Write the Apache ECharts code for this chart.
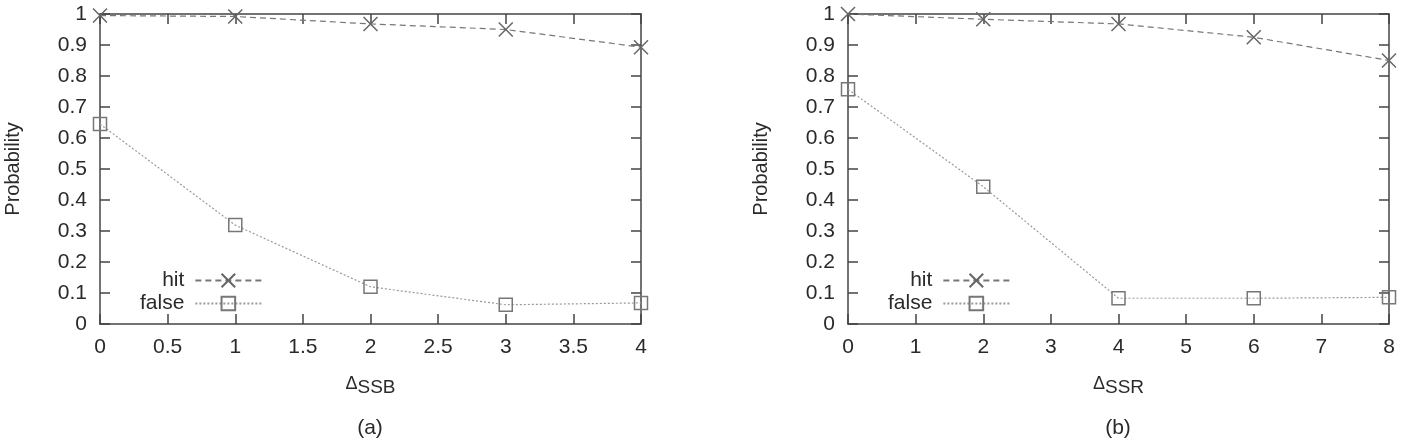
<!DOCTYPE html>
<html>
<head>
    <meta charset="utf-8">
    <title>chart</title>
    <style>
        html, body { margin: 0; padding: 0; background: #fff; }
        #chart { width: 1401px; height: 441px; }
    </style>
    <script src="https://cdn.jsdelivr.net/npm/echarts@6/dist/echarts.min.js"></script>
</head>
<body>
<div id="chart"></div>
<script>
    // (a) delta SSB
    var ssbX = [0, 1, 2, 3, 4];
    var ssbHit = [0.995, 0.992, 0.968, 0.95, 0.893];
    var ssbFalse = [0.645, 0.319, 0.12, 0.062, 0.068];

    // (b) delta SSR
    var ssrX = [0, 2, 4, 6, 8];
    var ssrHit = [1.0, 0.983, 0.968, 0.925, 0.85];
    var ssrFalse = [0.757, 0.443, 0.083, 0.083, 0.086];

    var seriesNames = ['hit', 'false'];

    var font = 'Liberation Sans, Arial, Helvetica, sans-serif';
    var axisColor = '#444';
    var textColor = '#2a2a2a';
    var crossSymbol = 'path://M0,0L10,10M10,0L0,10';

    function pairs(xs, ys) {
        return xs.map(function (x, i) { return [x, ys[i]]; });
    }

    function xAxes(idx, maxX, step, sub) {
        return [{
            type: 'value', gridIndex: idx, min: 0, max: maxX, interval: step,
            position: 'bottom',
            axisLine: { onZero: false, lineStyle: { color: axisColor, width: 1.5 } },
            axisTick: { inside: true, length: 10, lineStyle: { color: axisColor, width: 1.5 } },
            axisLabel: { margin: 13, color: textColor, fontSize: 21, fontFamily: font },
            splitLine: { show: false },
            name: '{d|Δ}{s|' + sub + '}',
            nameLocation: 'middle',
            nameGap: 51,
            nameTextStyle: {
                rich: {
                    d: { fontSize: 18, fontFamily: font, color: textColor, padding: [0, 0, 8, 0] },
                    s: { fontSize: 19, fontFamily: font, color: textColor }
                }
            }
        }, {
            type: 'value', gridIndex: idx, min: 0, max: maxX, interval: step,
            position: 'top',
            axisLine: { onZero: false, lineStyle: { color: axisColor, width: 1.5 } },
            axisTick: { inside: true, length: 10, lineStyle: { color: axisColor, width: 1.5 } },
            axisLabel: { show: false },
            splitLine: { show: false }
        }];
    }

    function yAxes(idx) {
        return [{
            type: 'value', gridIndex: idx, min: 0, max: 1, interval: 0.1,
            position: 'left',
            axisLine: { show: true, onZero: false, lineStyle: { color: axisColor, width: 1.5 } },
            axisTick: { show: true, inside: true, length: 10, lineStyle: { color: axisColor, width: 1.5 } },
            axisLabel: { margin: 13, color: textColor, fontSize: 21, fontFamily: font },
            splitLine: { show: false },
            name: 'Probability',
            nameLocation: 'middle',
            nameRotate: 90,
            nameGap: 77,
            nameTextStyle: { fontSize: 20, fontFamily: font, color: textColor }
        }, {
            type: 'value', gridIndex: idx, min: 0, max: 1, interval: 0.1,
            position: 'right',
            axisLine: { show: true, onZero: false, lineStyle: { color: axisColor, width: 1.5 } },
            axisTick: { show: true, inside: true, length: 10, lineStyle: { color: axisColor, width: 1.5 } },
            axisLabel: { show: false },
            splitLine: { show: false }
        }];
    }

    function hitSeries(xi, yi, data) {
        return {
            name: seriesNames[0], type: 'line', xAxisIndex: xi, yAxisIndex: yi,
            data: data, symbol: crossSymbol, symbolSize: 14,
            itemStyle: { color: 'transparent', borderColor: '#666', borderWidth: 1.5 },
            lineStyle: { color: '#777', width: 1.2, type: [6, 4] },
            emphasis: { disabled: true }, animation: false
        };
    }

    function falseSeries(xi, yi, data) {
        return {
            name: seriesNames[1], type: 'line', xAxisIndex: xi, yAxisIndex: yi,
            data: data, symbol: 'rect', symbolSize: 13,
            itemStyle: { color: 'transparent', borderColor: '#777', borderWidth: 1.5 },
            lineStyle: { color: '#999', width: 1.2, type: [2, 2] },
            emphasis: { disabled: true }, animation: false
        };
    }

    function legendAt(left) {
        return {
            orient: 'vertical', left: left, top: 270, padding: 0,
            align: 'right', itemWidth: 66, itemHeight: 17, itemGap: 2,
            data: seriesNames,
            textStyle: { fontSize: 21, fontFamily: font, color: textColor, width: 50, align: 'right', padding: [0, 6, 0, 0] }
        };
    }

    var chart = echarts.init(document.getElementById('chart'), null, { renderer: 'canvas' });
    chart.setOption({
        animation: false,
        grid: [
            { left: 100, right: 760, top: 14, bottom: 117 },
            { left: 848, right: 12, top: 14, bottom: 117 }
        ],
        xAxis: xAxes(0, 4, 0.5, 'SSB').concat(xAxes(1, 8, 1, 'SSR')),
        yAxis: yAxes(0).concat(yAxes(1)),
        legend: [legendAt(140), legendAt(888)],
        series: [
            hitSeries(0, 0, pairs(ssbX, ssbHit)),
            falseSeries(0, 0, pairs(ssbX, ssbFalse)),
            hitSeries(2, 2, pairs(ssrX, ssrHit)),
            falseSeries(2, 2, pairs(ssrX, ssrFalse))
        ],
        graphic: [
            { type: 'text', x: 370, y: 428, style: { text: '(a)', fontSize: 21, fontFamily: font, fill: textColor, align: 'center', verticalAlign: 'middle' } },
            { type: 'text', x: 1118, y: 428, style: { text: '(b)', fontSize: 21, fontFamily: font, fill: textColor, align: 'center', verticalAlign: 'middle' } }
        ]
    });
</script>
</body>
</html>
